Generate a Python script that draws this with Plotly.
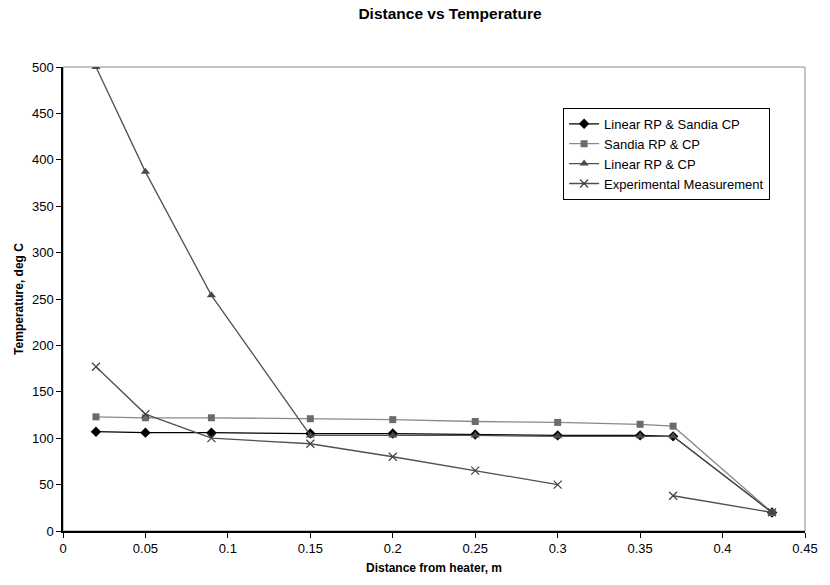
import plotly.graph_objects as go

distance = [0.02, 0.05, 0.09, 0.15, 0.2, 0.25, 0.3, 0.35, 0.37, 0.43]
linear_rp_sandia_cp = [107, 106, 106, 105, 105, 104, 103, 103, 102, 20]
sandia_rp_cp = [123, 122, 122, 121, 120, 118, 117, 115, 113, 20]
linear_rp_cp = [500, 387, 254, 103, 103, 103, 102, 102, 102, 20]
experimental = [177, 126, 100, 94, 80, 65, 50, None, 38, 20]

FONT = "Liberation Sans, Arial, sans-serif"

fig = go.Figure()
fig.add_trace(go.Scatter(
    x=distance, y=linear_rp_sandia_cp, name="Linear RP & Sandia CP",
    mode="lines+markers",
    line=dict(color="#000000", width=1.3),
    marker=dict(symbol="diamond", size=8, color="#000000")))
fig.add_trace(go.Scatter(
    x=distance, y=sandia_rp_cp, name="Sandia RP & CP",
    mode="lines+markers",
    line=dict(color="#8a8a8a", width=1.3),
    marker=dict(symbol="square", size=7, color="#6b6b6b")))
fig.add_trace(go.Scatter(
    x=distance, y=linear_rp_cp, name="Linear RP & CP",
    mode="lines+markers",
    line=dict(color="#505050", width=1.3),
    marker=dict(symbol="triangle-up", size=8, color="#4a4a4a")))
fig.add_trace(go.Scatter(
    x=distance, y=experimental, name="Experimental Measurement",
    mode="lines+markers", connectgaps=False,
    line=dict(color="#505050", width=1.3),
    marker=dict(symbol="x-thin", size=8, color="#404040",
                line=dict(color="#404040", width=1.2))))

fig.add_shape(type="rect", xref="paper", yref="paper", x0=0, y0=0, x1=1, y1=1,
              line=dict(color="#8a8a8a", width=1), layer="below")

fig.update_layout(
    width=830, height=585,
    margin=dict(l=63, r=16, t=67, b=50),
    paper_bgcolor="white", plot_bgcolor="white",
    font=dict(family=FONT, size=13, color="#000000"),
    title=dict(text="<b>Distance vs Temperature</b>", x=450/830, xanchor="center",
               y=1 - 14/585, yanchor="middle",
               font=dict(family=FONT, size=15.5, color="#000000")),
    showlegend=True,
    legend=dict(x=0.674, y=0.912, xanchor="left", yanchor="top",
                bgcolor="white", bordercolor="#000000", borderwidth=1,
                font=dict(family=FONT, size=13, color="#000000"),
                tracegroupgap=0),
    xaxis=dict(range=[0, 0.45], dtick=0.05, tick0=0,
               showgrid=False, zeroline=False,
               showline=True, linecolor="#000000", linewidth=1.5,
               ticks="outside", ticklen=5, tickcolor="#000000",
               tickfont=dict(family=FONT, size=13),
               title=dict(text="<b>Distance from heater, m</b>", standoff=8,
                          font=dict(family=FONT, size=12))),
    yaxis=dict(range=[0, 500], dtick=50, tick0=0,
               showgrid=False, zeroline=False,
               showline=True, linecolor="#000000", linewidth=1.5,
               ticks="outside", ticklen=5, tickcolor="#000000",
               tickfont=dict(family=FONT, size=13),
               title=dict(text="<b>Temperature, deg C</b>", standoff=6,
                          font=dict(family=FONT, size=12))),
)

fig.write_html("out.html")
